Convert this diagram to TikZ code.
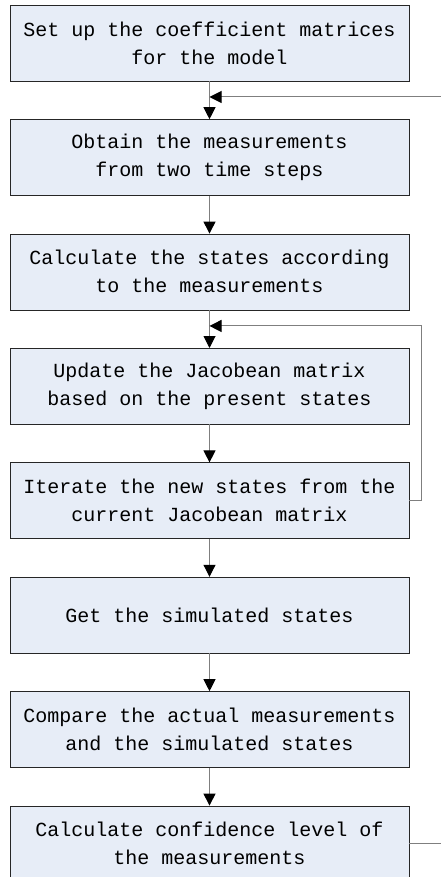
\documentclass[tikz,border=0pt]{standalone}
\usepackage{fontspec}
\setmonofont{Liberation Mono}
\usetikzlibrary{positioning,arrows.meta,calc}
\definecolor{boxfill}{HTML}{E7EDF7}
\definecolor{lgray}{HTML}{7F7F7F}

\begin{document}
\begin{tikzpicture}[font=\ttfamily\fontsize{20}{28}\selectfont,node distance=38pt,
  s/.style={draw=black!85,fill=boxfill,minimum width=399pt,minimum height=76pt,align=center,inner sep=0pt},
  a/.style={draw=lgray,line width=1pt,-{Triangle[width=12pt,length=12pt,black]}},
  l/.style={draw=lgray,line width=1pt}]
  \useasboundingbox (0,0) rectangle (441pt,-877pt);
  \node[s](su) at (209.5pt,-43pt){Set up the coefficient matrices\\for the model};
  \node[s,below=of su](ob){Obtain the measurements\\from two time steps};
  \node[s,below=of ob](ca){Calculate the states according\\to the measurements};
  \node[s,below=of ca](up){Update the Jacobean matrix\\based on the present states};
  \node[s,below=of up](it){Iterate the new states from the\\current Jacobean matrix};
  \node[s,below=of it](gs){Get the simulated states};
  \node[s,below=of gs](cm){Compare the actual measurements\\and the simulated states};
  \node[s,below=of cm](cl){Calculate confidence level of\\the measurements};
  \draw[a](su)--(ob);\draw[a](ob)--(ca);\draw[a](ca)--(up);\draw[a](up)--(it);
  \draw[a](it)--(gs);\draw[a](gs)--(cm);\draw[a](cm)--(cl);
  % feedback lines
  \coordinate (inR) at (441pt,-97pt);
  \draw[a](inR)--(inR -| su.south);
  \draw[a](it.east)--++(12pt,0)|-($(ca.south)!0.42!(up.north)$);
  \draw[l](cl.east)--(cl.east -| inR);
\end{tikzpicture}
\end{document}
